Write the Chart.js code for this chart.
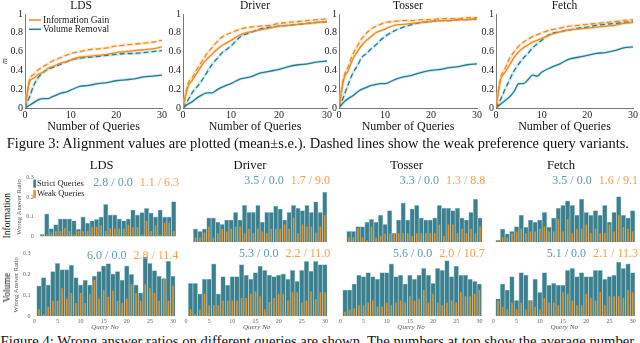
<!DOCTYPE html>
<html>
<head>
<meta charset="utf-8">
<script src="https://cdn.jsdelivr.net/npm/chart.js"></script>
<style>
html,body{margin:0;padding:0;background:#ffffff;}
body{width:640px;height:343px;overflow:hidden;position:relative;}
canvas{position:absolute;}
.t{position:absolute;white-space:nowrap;line-height:1;color:#111;font-family:"Liberation Serif","Times New Roman",serif;}
</style>
</head>
<body>
<script>
// ================= DATA =================
const envNames = ['LDS', 'Driver', 'Tosser', 'Fetch'];
const methodNames = ['Information Gain', 'Volume Removal'];
const queryAxisTitle = 'Number of Queries';
const alignAxisTitle = 'm';
const alignTicks = [0, 0.2, 0.4, 0.6, 0.8, 1];
const alignX = [0, 1, 2, 3, 4, 5, 6, 7, 8, 9, 10, 12, 14, 16, 18, 20, 22, 24, 26, 28, 30];

// alignment values (Figure 3)
const ldsIG       = [0, 0.28, 0.32, 0.36, 0.38, 0.42, 0.44, 0.46, 0.48, 0.49, 0.51, 0.54, 0.55, 0.56, 0.57, 0.59, 0.60, 0.61, 0.62, 0.63, 0.65];
const ldsIGWeak   = [0, 0.30, 0.36, 0.41, 0.44, 0.47, 0.50, 0.52, 0.54, 0.56, 0.58, 0.60, 0.62, 0.63, 0.64, 0.66, 0.67, 0.68, 0.69, 0.70, 0.72];
const ldsVR       = [0, 0.03, 0.06, 0.09, 0.10, 0.10, 0.12, 0.14, 0.16, 0.17, 0.19, 0.23, 0.24, 0.26, 0.27, 0.29, 0.30, 0.31, 0.33, 0.34, 0.35];
const ldsVRWeak   = [0, 0.12, 0.25, 0.33, 0.38, 0.41, 0.43, 0.45, 0.47, 0.49, 0.51, 0.53, 0.54, 0.55, 0.56, 0.57, 0.58, 0.58, 0.59, 0.60, 0.61];

const driverIG     = [0, 0.22, 0.30, 0.38, 0.46, 0.52, 0.57, 0.62, 0.66, 0.69, 0.72, 0.78, 0.81, 0.83, 0.85, 0.87, 0.88, 0.89, 0.90, 0.91, 0.92];
const driverIGWeak = [0, 0.25, 0.33, 0.42, 0.50, 0.58, 0.64, 0.70, 0.75, 0.78, 0.80, 0.84, 0.86, 0.87, 0.88, 0.90, 0.91, 0.92, 0.93, 0.94, 0.95];
const driverVR     = [0, 0.04, 0.07, 0.11, 0.14, 0.16, 0.16, 0.19, 0.22, 0.24, 0.26, 0.31, 0.33, 0.37, 0.39, 0.41, 0.44, 0.46, 0.47, 0.49, 0.50];
const driverVRWeak = [0, 0.08, 0.17, 0.23, 0.30, 0.38, 0.46, 0.52, 0.58, 0.62, 0.66, 0.76, 0.80, 0.84, 0.86, 0.87, 0.88, 0.89, 0.90, 0.91, 0.92];

const tosserIG     = [0, 0.30, 0.40, 0.52, 0.60, 0.67, 0.72, 0.76, 0.80, 0.82, 0.84, 0.88, 0.89, 0.90, 0.91, 0.92, 0.93, 0.93, 0.94, 0.94, 0.95];
const tosserIGWeak = [0, 0.32, 0.44, 0.57, 0.66, 0.74, 0.80, 0.84, 0.87, 0.89, 0.91, 0.92, 0.93, 0.93, 0.94, 0.94, 0.95, 0.95, 0.95, 0.96, 0.96];
const tosserVR     = [0, 0.06, 0.10, 0.13, 0.17, 0.20, 0.22, 0.24, 0.25, 0.26, 0.26, 0.30, 0.33, 0.35, 0.38, 0.40, 0.41, 0.43, 0.44, 0.46, 0.47];
const tosserVRWeak = [0, 0.12, 0.25, 0.37, 0.45, 0.54, 0.58, 0.63, 0.67, 0.72, 0.76, 0.82, 0.86, 0.89, 0.91, 0.92, 0.93, 0.93, 0.94, 0.94, 0.95];

const fetchIG     = [0, 0.30, 0.38, 0.46, 0.54, 0.60, 0.64, 0.67, 0.70, 0.72, 0.74, 0.78, 0.81, 0.83, 0.84, 0.85, 0.86, 0.87, 0.88, 0.90, 0.91];
const fetchIGWeak = [0, 0.32, 0.42, 0.53, 0.60, 0.66, 0.70, 0.73, 0.76, 0.78, 0.80, 0.83, 0.85, 0.87, 0.88, 0.89, 0.90, 0.91, 0.92, 0.93, 0.94];
const fetchVR     = [0, 0.04, 0.08, 0.12, 0.18, 0.26, 0.26, 0.30, 0.35, 0.34, 0.38, 0.43, 0.47, 0.52, 0.54, 0.56, 0.58, 0.59, 0.61, 0.64, 0.65];
const fetchVRWeak = [0, 0.09, 0.20, 0.30, 0.40, 0.47, 0.53, 0.58, 0.64, 0.68, 0.72, 0.79, 0.81, 0.83, 0.85, 0.86, 0.88, 0.89, 0.90, 0.91, 0.92];

// wrong answer ratios (Figure 4)
const queryNo = [1, 2, 3, 4, 5, 6, 7, 8, 9, 10, 11, 12, 13, 14, 15, 16, 17, 18, 19, 20, 21, 22, 23, 24, 25, 26, 27, 28, 29, 30];
const queryTicks = [0, 5, 10, 15, 20, 25, 30];
const ratioTicks = [0, 0.1, 0.2, 0.3];
const rowNames = ['Information', 'Volume'];
const barLegendNames = ['Strict Queries', 'Weak Queries'];
const ratioAxisTitle = 'Wrong Answer Ratio';
const queryNoTitle = 'Query No';

const ldsInfoStrict    = [0.010, 0.115, 0.040, 0.060, 0.090, 0.090, 0.090, 0.080, 0.037, 0.100, 0.068, 0.080, 0.087, 0.100, 0.163, 0.110, 0.110, 0.090, 0.080, 0.090, 0.135, 0.110, 0.122, 0.143, 0.120, 0.100, 0.135, 0.100, 0.100, 0.178];
const ldsInfoWeak      = [0.008, 0.008, 0.020, 0.027, 0.027, 0.043, 0.027, 0.008, 0.027, 0.027, 0.027, 0.048, 0.048, 0.055, 0.027, 0.040, 0.040, 0.040, 0.040, 0.060, 0.048, 0.048, 0.008, 0.080, 0.027, 0.055, 0.008, 0.070, 0.070, 0.027];
const driverInfoStrict = [0.060, 0.048, 0.060, 0.110, 0.110, 0.090, 0.080, 0.100, 0.100, 0.135, 0.100, 0.167, 0.135, 0.135, 0.167, 0.090, 0.135, 0.135, 0.163, 0.150, 0.100, 0.135, 0.167, 0.154, 0.143, 0.167, 0.135, 0.183, 0.135, 0.227];
const driverInfoWeak   = [0.020, 0.020, 0.043, 0.070, 0.020, 0.040, 0.060, 0.048, 0.060, 0.070, 0.070, 0.040, 0.060, 0.040, 0.060, 0.048, 0.040, 0.060, 0.060, 0.060, 0.080, 0.060, 0.110, 0.040, 0.080, 0.070, 0.070, 0.043, 0.070, 0.122];
const tosserInfoStrict = [0.048, 0.048, 0.070, 0.070, 0.090, 0.103, 0.090, 0.122, 0.080, 0.143, 0.040, 0.100, 0.178, 0.100, 0.150, 0.167, 0.110, 0.100, 0.100, 0.110, 0.167, 0.154, 0.154, 0.143, 0.154, 0.110, 0.100, 0.135, 0.195, 0.110];
const tosserInfoWeak   = [0.020, 0.020, 0.063, 0.020, 0.008, 0.070, 0.020, 0.027, 0.037, 0.037, 0.040, 0.040, 0.040, 0.040, 0.027, 0.040, 0.040, 0.040, 0.040, 0.040, 0.080, 0.027, 0.080, 0.080, 0.040, 0.060, 0.040, 0.060, 0.040, 0.070];
const fetchInfoStrict  = [0.008, 0.060, 0.037, 0.048, 0.070, 0.122, 0.068, 0.100, 0.090, 0.100, 0.135, 0.068, 0.110, 0.154, 0.167, 0.187, 0.167, 0.122, 0.195, 0.135, 0.122, 0.143, 0.122, 0.167, 0.090, 0.135, 0.206, 0.122, 0.110, 0.143];
const fetchInfoWeak    = [0.008, 0.020, 0.020, 0.040, 0.048, 0.060, 0.040, 0.048, 0.048, 0.060, 0.070, 0.048, 0.048, 0.103, 0.048, 0.103, 0.040, 0.060, 0.060, 0.080, 0.040, 0.060, 0.040, 0.040, 0.080, 0.048, 0.122, 0.068, 0.060, 0.048];

const ldsVolStrict    = [0.145, 0.185, 0.150, 0.214, 0.253, 0.223, 0.223, 0.244, 0.185, 0.150, 0.173, 0.150, 0.192, 0.214, 0.241, 0.252, 0.203, 0.214, 0.173, 0.241, 0.200, 0.150, 0.111, 0.284, 0.253, 0.218, 0.192, 0.180, 0.264, 0.192];
const ldsVolWeak      = [0.032, 0.009, 0.043, 0.073, 0.073, 0.134, 0.084, 0.111, 0.063, 0.111, 0.063, 0.104, 0.173, 0.084, 0.124, 0.093, 0.122, 0.073, 0.063, 0.084, 0.154, 0.111, 0.073, 0.153, 0.134, 0.111, 0.073, 0.183, 0.073, 0.145];
const driverVolStrict = [0.153, 0.153, 0.104, 0.173, 0.173, 0.244, 0.104, 0.185, 0.145, 0.185, 0.185, 0.241, 0.192, 0.173, 0.203, 0.234, 0.214, 0.192, 0.185, 0.192, 0.198, 0.173, 0.214, 0.162, 0.214, 0.256, 0.210, 0.256, 0.241, 0.241];
const driverVolWeak   = [0.030, 0.009, 0.030, 0.104, 0.050, 0.050, 0.050, 0.073, 0.073, 0.073, 0.073, 0.084, 0.084, 0.104, 0.115, 0.093, 0.030, 0.066, 0.084, 0.104, 0.104, 0.073, 0.111, 0.111, 0.063, 0.073, 0.115, 0.080, 0.111, 0.111];
const tosserVolStrict = [0.122, 0.122, 0.150, 0.192, 0.185, 0.203, 0.185, 0.173, 0.203, 0.203, 0.244, 0.185, 0.192, 0.150, 0.192, 0.173, 0.192, 0.223, 0.192, 0.153, 0.223, 0.214, 0.260, 0.185, 0.234, 0.192, 0.192, 0.173, 0.162, 0.150];
const tosserVolWeak   = [0.020, 0.030, 0.035, 0.050, 0.050, 0.063, 0.073, 0.043, 0.043, 0.063, 0.050, 0.063, 0.073, 0.063, 0.093, 0.073, 0.081, 0.122, 0.063, 0.104, 0.063, 0.050, 0.063, 0.073, 0.063, 0.111, 0.093, 0.093, 0.104, 0.122];
const fetchVolStrict  = [0.081, 0.150, 0.122, 0.185, 0.073, 0.203, 0.192, 0.073, 0.173, 0.111, 0.203, 0.145, 0.153, 0.145, 0.145, 0.214, 0.223, 0.185, 0.203, 0.185, 0.185, 0.214, 0.214, 0.173, 0.185, 0.192, 0.253, 0.223, 0.244, 0.203];
const fetchVolWeak    = [0.073, 0.043, 0.030, 0.063, 0.030, 0.063, 0.030, 0.073, 0.043, 0.030, 0.084, 0.063, 0.063, 0.050, 0.111, 0.104, 0.073, 0.050, 0.050, 0.104, 0.084, 0.073, 0.111, 0.050, 0.093, 0.093, 0.093, 0.084, 0.122, 0.111];

// average numbers shown at top of each panel
const infoStrictAvg = [[2.8, 0.0], [3.5, 0.0], [3.3, 0.0], [3.5, 0.0]];
const infoWeakAvg   = [[1.1, 6.3], [1.7, 9.0], [1.3, 8.8], [1.6, 9.1]];
const volStrictAvg  = [[6.0, 0.0], [5.3, 0.0], [5.6, 0.0], [5.1, 0.0]];
const volWeakAvg    = [[2.8, 11.4], [2.2, 11.0], [2.0, 10.7], [2.1, 11.3]];

const caption3 = 'Figure 3: Alignment values are plotted (mean\u00B1s.e.). Dashed lines show the weak preference query variants.';
const caption4 = 'Figure 4: Wrong answer ratios on different queries are shown. The numbers at top show the average number';

// ================= STYLE / LAYOUT =================
const SERIF = '"Liberation Serif","Times New Roman",serif';
const IG_COLOR = '#ef8a1d', VR_COLOR = '#2b7b8b';
const IG_HALO = 'rgba(250,200,150,0.45)', VR_HALO = 'rgba(150,220,235,0.5)';
const BAR_TEAL = '#3d7f8c', BAR_TEAL_EDGE = '#a3d2da', BAR_ORANGE = '#f0911f';
const TXT_TEAL = '#5c9aab', TXT_ORANGE = '#f1a04b';

const lineGeom = [
  {plotL: 25,  plotR: 162, yW: 25, rightPad: 8, fullTitle: true},
  {plotL: 183, plotR: 327, yW: 22, rightPad: 6, fullTitle: false},
  {plotL: 339, plotR: 477, yW: 22, rightPad: 6, fullTitle: false},
  {plotL: 496, plotR: 633, yW: 22, rightPad: 6, fullTitle: false}
];
const barGeom = [
  [{barL: 40, barR: 176}, {barL: 193.3, barR: 327}, {barL: 346.7, barR: 482.3}, {barL: 495.7, barR: 635}],
  [{barL: 36.7, barR: 175.3}, {barL: 188.3, barR: 327.3}, {barL: 342.7, barR: 481.7}, {barL: 495.7, barR: 635}]
];

Chart.defaults.font.family = SERIF;
Chart.defaults.animation = false;

function makeCanvas(left, top, w, h) {
  const c = document.createElement('canvas');
  c.width = w; c.height = h;
  c.style.left = left + 'px'; c.style.top = top + 'px';
  c.style.width = w + 'px'; c.style.height = h + 'px';
  document.body.appendChild(c);
  return c;
}

// legend drawn inside the plot area (line chart)
const insideLegend = {
  id: 'insideLegend',
  afterDatasetsDraw(chart, args, o) {
    if (!o || !o.show) return;
    const ctx = chart.ctx, a = chart.chartArea;
    ctx.save();
    ctx.font = o.size + 'px ' + SERIF;
    ctx.textBaseline = 'middle';
    o.items.forEach((it, i) => {
      const x = a.left + o.x0, y = a.top + o.y0 + i * o.dy;
      ctx.strokeStyle = it.color; ctx.lineWidth = 1.5;
      ctx.beginPath(); ctx.moveTo(x, y); ctx.lineTo(x + o.len, y); ctx.stroke();
      ctx.fillStyle = '#222';
      ctx.fillText(it.text, x + o.len + 2, y);
    });
    ctx.restore();
  }
};

// legend with colour patches (bar chart)
const barKey = {
  id: 'barKey',
  afterDatasetsDraw(chart, args, o) {
    if (!o || !o.show) return;
    const ctx = chart.ctx, a = chart.chartArea, ds = chart.data.datasets;
    ctx.save();
    ctx.font = o.size + 'px ' + SERIF;
    ctx.textBaseline = 'middle';
    [ds[1], ds[0]].forEach((d, i) => {
      const x = a.left + o.x0, y = a.top + o.y0 + i * o.dy;
      ctx.fillStyle = d.backgroundColor;
      ctx.fillRect(x, y - 4, 2.6, 8);
      ctx.fillStyle = '#222';
      ctx.fillText(d.label, x + 3.6, y);
    });
    ctx.restore();
  }
};

// average numbers at top right
const avgText = {
  id: 'avgText',
  afterDatasetsDraw(chart, args, o) {
    if (!o || !o.strict) return;
    const ctx = chart.ctx, a = chart.chartArea;
    const fmt = p => p[0].toFixed(1) + ' / ' + p[1].toFixed(1);
    ctx.save();
    ctx.font = o.size + 'px ' + SERIF;
    ctx.textBaseline = 'middle';
    ctx.textAlign = 'right';
    const y = a.top + o.dy;
    let x = a.right + o.dx;
    const weakStr = fmt(o.weak), strictStr = fmt(o.strict);
    ctx.fillStyle = TXT_ORANGE;
    ctx.fillText(weakStr, x, y);
    x -= ctx.measureText(weakStr).width + o.gap;
    ctx.fillStyle = TXT_TEAL;
    ctx.fillText(strictStr, x, y);
    ctx.restore();
  }
};

function pts(xs, ys) { return xs.map((x, i) => ({x: x, y: ys[i]})); }

function lineChart(i, ig, igW, vr, vrW) {
  const g = lineGeom[i];
  const H = 136, plotW = g.plotR - g.plotL;
  const left = g.plotL - g.yW;
  const W = Math.ceil(g.yW + plotW + g.rightPad);
  const c = makeCanvas(left, 0, W, H);
  const common = {pointRadius: 0, cubicInterpolationMode: 'monotone', fill: false};
  const halo = (ys, col, ord) => Object.assign({label: '', data: pts(alignX, ys), borderColor: col, borderWidth: 3, order: ord}, common);
  const line = (lab, ys, col, dash, ord) => Object.assign({label: lab, data: pts(alignX, ys), borderColor: col, borderWidth: 1.3, borderDash: dash, order: ord}, common);
  new Chart(c, {
    type: 'line',
    data: {datasets: [
      halo(vr, VR_HALO, 14), halo(vrW, VR_HALO, 13), halo(igW, IG_HALO, 12), halo(ig, IG_HALO, 11),
      line(methodNames[1], vr, VR_COLOR, [], 4),
      line(methodNames[1] + ' (weak)', vrW, VR_COLOR, [5, 3], 3),
      line(methodNames[0] + ' (weak)', igW, IG_COLOR, [5, 3], 2),
      line(methodNames[0], ig, IG_COLOR, [], 1)
    ]},
    options: {
      responsive: false, animation: false,
      layout: {padding: {left: 0, top: 0, bottom: 0, right: W - g.yW - plotW}},
      plugins: {
        legend: {display: false}, tooltip: {enabled: false},
        title: {display: true, text: envNames[i], fullSize: g.fullTitle, color: '#111',
                font: {family: SERIF, size: 11.5, weight: 'normal', lineHeight: 1}, padding: {top: 0, bottom: 2.5}},
        insideLegend: i === 0 ? {show: true, size: 9.5, x0: 4, y0: 6, dy: 9.3, len: 12,
          items: [{text: methodNames[0], color: IG_COLOR}, {text: methodNames[1], color: VR_COLOR}]} : {show: false}
      },
      scales: {
        x: {type: 'linear', min: 0, max: 30, offset: false,
            ticks: {stepSize: 10, color: '#222', font: {family: SERIF, size: 10}, padding: 1, maxRotation: 0},
            grid: {display: false, drawTicks: false},
            border: {display: true, color: '#555', width: 0.8},
            title: {display: true, text: queryAxisTitle, color: '#111', font: {family: SERIF, size: 12}, padding: {top: 0, bottom: 2}},
            afterFit: s => { s.height = 28; }},
        y: {type: 'linear', min: 0, max: 1,
            afterBuildTicks: s => { s.ticks = alignTicks.map(v => ({value: v})); },
            ticks: {color: '#222', font: {family: SERIF, size: 10}, padding: 2,
                    callback: v => (v === 0 || v === 1) ? String(v) : v.toFixed(1)},
            grid: {display: false, drawTicks: false},
            border: {display: true, color: '#555', width: 0.8},
            title: {display: i === 0, text: alignAxisTitle, color: '#333', font: {family: SERIF, size: 8, style: 'italic'}, padding: 0},
            afterFit: s => { s.width = g.yW; }}
      }
    },
    plugins: [insideLegend]
  });
}

function barChart(row, col, strict, weak, sAvg, wAvg) {
  const g = barGeom[row][col];
  const step = (g.barR - g.barL) / 30;
  const plotL = g.barL - step / 2, plotR = g.barR;
  const plotW = plotR - plotL;
  const isLeft = col === 0, isVol = row === 1;
  const plotTop = isVol ? 252 : 176, plotBottom = isVol ? 316 : 242;
  const padTop = 6, xH = isVol ? 15 : 2, rightPad = 8;
  const canvasLeft = Math.floor(plotL - (isLeft ? 22 : 6));
  const yW = plotL - canvasLeft;
  const W = Math.ceil(yW + plotW + rightPad);
  const H = padTop + (plotBottom - plotTop) + xH;
  const c = makeCanvas(canvasLeft, plotTop - padTop, W, H);
  new Chart(c, {
    type: 'bar',
    data: {datasets: [
      {label: barLegendNames[1], data: pts(queryNo, weak), backgroundColor: BAR_ORANGE, borderWidth: 0,
       barPercentage: 0.34, categoryPercentage: 1, grouped: false, order: 0},
      {label: barLegendNames[0], data: pts(queryNo, strict), backgroundColor: BAR_TEAL, borderColor: BAR_TEAL_EDGE,
       borderWidth: 0.7, barPercentage: 1, categoryPercentage: 1, grouped: false, order: 1}
    ]},
    options: {
      responsive: false, animation: false,
      layout: {padding: {left: 0, top: padTop, bottom: 0, right: W - yW - plotW}},
      plugins: {
        legend: {display: false}, tooltip: {enabled: false}, title: {display: false},
        barKey: {show: isLeft && !isVol, size: 8.5, x0: -4.4, y0: 6, dy: 10.5},
        avgText: {strict: sAvg, weak: wAvg, size: 12, dx: 3, dy: isVol ? 2 : 5, gap: 7}
      },
      scales: {
        x: {type: 'linear', min: 0, max: 30.5, offset: false,
            afterBuildTicks: s => { s.ticks = queryTicks.map(v => ({value: v})); },
            ticks: {display: isVol, color: '#666', font: {family: SERIF, size: 6}, padding: 2, maxRotation: 0, autoSkip: false},
            grid: {display: false, drawTicks: false},
            border: {display: false},
            title: {display: isVol, text: queryNoTitle, color: '#555', font: {family: SERIF, size: 7, style: 'italic', lineHeight: 1}, padding: {top: 0, bottom: 0}},
            afterFit: s => { s.height = xH; }},
        y: {type: 'linear', min: 0, max: 0.3,
            afterBuildTicks: s => { s.ticks = ratioTicks.map(v => ({value: v})); },
            ticks: {display: isLeft, color: '#666', font: {family: SERIF, size: 6}, padding: 4,
                    callback: v => v === 0 ? '0' : v.toFixed(1)},
            grid: {display: false, drawTicks: false},
            border: {display: false},
            title: {display: isLeft, text: ratioAxisTitle, color: '#555', font: {family: SERIF, size: 6.5}, padding: 0},
            afterFit: s => { s.width = yW; }}
      }
    },
    plugins: [barKey, avgText]
  });
}

// ---------- build the charts ----------
lineChart(0, ldsIG, ldsIGWeak, ldsVR, ldsVRWeak);
lineChart(1, driverIG, driverIGWeak, driverVR, driverVRWeak);
lineChart(2, tosserIG, tosserIGWeak, tosserVR, tosserVRWeak);
lineChart(3, fetchIG, fetchIGWeak, fetchVR, fetchVRWeak);

const infoStrict = [ldsInfoStrict, driverInfoStrict, tosserInfoStrict, fetchInfoStrict];
const infoWeak = [ldsInfoWeak, driverInfoWeak, tosserInfoWeak, fetchInfoWeak];
const volStrict = [ldsVolStrict, driverVolStrict, tosserVolStrict, fetchVolStrict];
const volWeak = [ldsVolWeak, driverVolWeak, tosserVolWeak, fetchVolWeak];
for (let k = 0; k < 4; k++) {
  barChart(0, k, infoStrict[k], infoWeak[k], infoStrictAvg[k], infoWeakAvg[k]);
  barChart(1, k, volStrict[k], volWeak[k], volStrictAvg[k], volWeakAvg[k]);
}

// ---------- figure-level text ----------
const BASE = 0.8375;
function addText(txt, size, opts) {
  const d = document.createElement('div');
  d.className = 't';
  d.textContent = txt;
  d.style.fontSize = size + 'px';
  if (opts && opts.color) d.style.color = opts.color;
  document.body.appendChild(d);
  return d;
}
function fitLine(txt, x0, x1, baseline, size) {
  const d = addText(txt, size);
  const w = d.getBoundingClientRect().width;
  const fs = size * (x1 - x0) / w;
  d.style.fontSize = fs + 'px';
  d.style.left = x0 + 'px';
  d.style.top = (baseline - BASE * fs) + 'px';
}
function centerText(txt, cx, baseline, size) {
  const d = addText(txt, size);
  const w = d.getBoundingClientRect().width;
  d.style.left = (cx - w / 2) + 'px';
  d.style.top = (baseline - BASE * size) + 'px';
}
function rotText(txt, cx, cy, size) {
  const d = addText(txt, size);
  const r = d.getBoundingClientRect();
  d.style.left = (cx - r.width / 2) + 'px';
  d.style.top = (cy - r.height / 2) + 'px';
  d.style.transform = 'rotate(-90deg)';
}

fitLine(caption3, 6.7, 630, 148.3, 14);
const colTitleX = [101.7, 250, 406.7, 561];
envNames.forEach((n, k) => centerText(n, colTitleX[k], 169.3, 12.6));
rotText(rowNames[0], 8, 216, 9.5);
rotText(rowNames[1], 8, 288, 9.5);
fitLine(caption4, 0.5, 635, 346, 14);
</script>
</body>
</html>
